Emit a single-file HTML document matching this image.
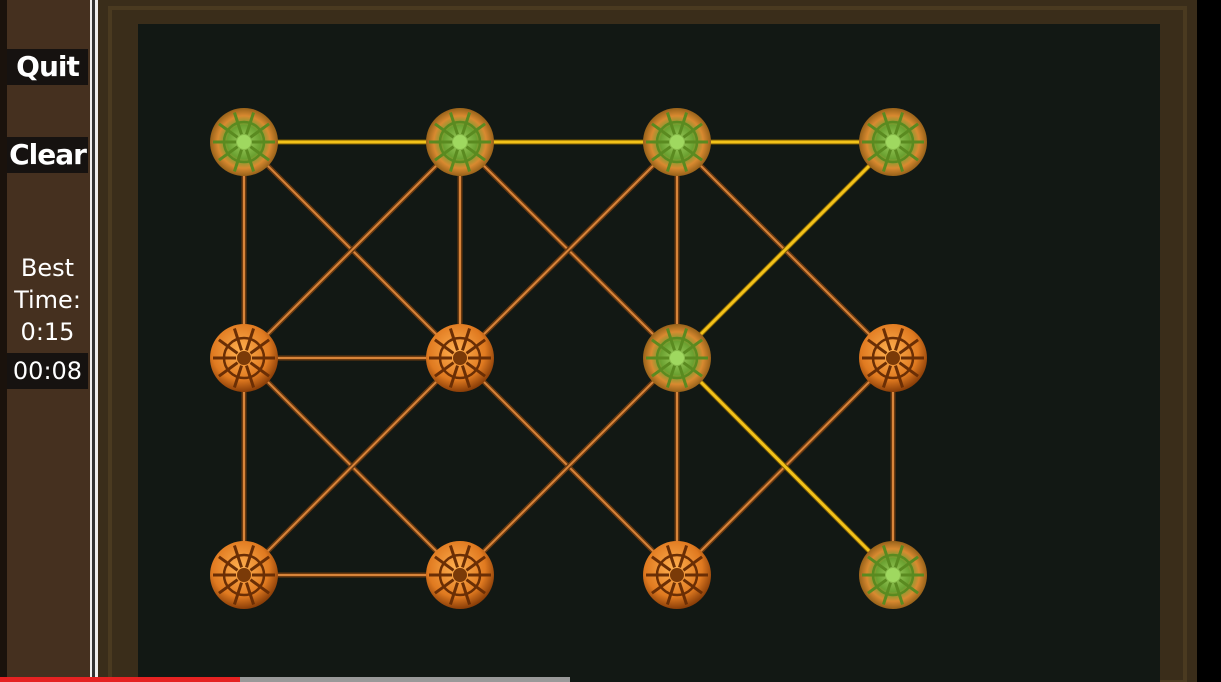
<!DOCTYPE html>
<html><head><meta charset="utf-8"><style>
body{margin:0;width:1221px;height:682px;overflow:hidden;background:#000;font-family:"DejaVu Sans","Liberation Sans",sans-serif}
#side{position:absolute;left:0;top:0;width:90px;height:682px;background:#45301f}
#side .strip{position:absolute;left:0;top:0;width:7px;height:682px;background:#1a120c}
.btn{position:absolute;left:7px;width:81px;background:#161210;color:#fff;font-weight:bold;font-size:28px;letter-spacing:-1px;text-align:center;line-height:36px;overflow:hidden;white-space:nowrap}
.lbl{position:absolute;left:7px;width:81px;color:#fff;font-size:24px;text-align:center;line-height:32px}
</style></head><body>
<div id="side">
<div class="strip"></div>
<div class="btn" style="top:49px">Quit</div>
<div class="btn" style="top:137px">Clear</div>
<div class="lbl" style="top:252px">Best<br>Time:<br>0:15</div>
<div class="btn" style="top:353px;font-weight:normal;font-size:24px;letter-spacing:0">00:08</div>
</div>
<svg id="board" width="1221" height="682" style="position:absolute;left:0;top:0">
<defs>
<radialGradient id="gO" cx="45%" cy="40%" r="60%"><stop offset="0" stop-color="#ffb050"/><stop offset="0.7" stop-color="#e07a20"/><stop offset="1" stop-color="#8a3e08"/></radialGradient>
<radialGradient id="gG" cx="50%" cy="50%" r="55%"><stop offset="0" stop-color="#9fd060"/><stop offset="0.45" stop-color="#6aa030"/><stop offset="0.7" stop-color="#d98a30"/><stop offset="1" stop-color="#7a5010"/></radialGradient>
</defs>
<rect x="90" y="0" width="2" height="682" fill="#eee"/>
<rect x="92" y="0" width="3" height="682" fill="#333"/>
<rect x="95" y="0" width="3" height="682" fill="#eee"/>
<rect x="98" y="0" width="1099" height="682" fill="#3a2d1a"/>
<rect x="110" y="8" width="1075" height="674" fill="none" stroke="#4a3a20" stroke-width="4"/>
<rect x="138" y="24" width="1022" height="658" fill="#121814"/>
<rect x="0" y="677" width="240" height="5" fill="#e52222"/>
<rect x="240" y="677" width="330" height="5" fill="#999"/>
<g id="edges"></g><g id="nodes"></g>
</svg>
<script>
const colsX=[244,460,677,893];
const rowsY=[142,358,575];
const greenNodes=["0,0","1,0","2,0","3,0","2,1","3,2"];
const yellowEdges=[[0,0,1,0],[1,0,2,0],[2,0,3,0],[3,0,2,1],[2,1,3,2]];
const orangeEdges=[[0,0,0,1],[0,0,1,1],[1,0,0,1],[1,0,1,1],[1,0,2,1],[2,0,1,1],[2,0,2,1],[2,0,3,1],[0,1,1,1],[0,1,0,2],[0,1,1,2],[1,1,0,2],[1,1,2,2],[2,1,1,2],[2,1,2,2],[3,1,2,2],[3,1,3,2],[0,2,1,2]];
const NS="http://www.w3.org/2000/svg";
const eg=document.getElementById('edges'),ng=document.getElementById('nodes');
function line(e,col,w,name){const l=document.createElementNS(NS,'line');
l.setAttribute('x1',colsX[e[0]]);l.setAttribute('y1',rowsY[e[1]]);l.setAttribute('x2',colsX[e[2]]);l.setAttribute('y2',rowsY[e[3]]);
l.setAttribute('stroke',col);l.setAttribute('stroke-width',w);


eg.appendChild(l);}
orangeEdges.forEach(e=>{line(e,'#6b3a10',5,'edge-outline');line(e,'#d8843a',2,'edge');});
yellowEdges.forEach(e=>{line(e,'#7a5a00',5,'edge-outline');line(e,'#f2c21a',3,'selected-edge');});
for(let r=0;r<rowsY.length;r++)for(let c=0;c<colsX.length;c++){
 const g=greenNodes.includes(c+','+r);const x=colsX[c],y=rowsY[r];
 const grp=document.createElementNS(NS,'g');
 
 
 const ci=document.createElementNS(NS,'circle');ci.setAttribute('cx',x);ci.setAttribute('cy',y);ci.setAttribute('r',34);ci.setAttribute('fill',g?'url(#gG)':'url(#gO)');grp.appendChild(ci);
 for(let k=0;k<10;k++){const a=k*Math.PI/5;const s=document.createElementNS(NS,'line');
  s.setAttribute('x1',x+8*Math.cos(a));s.setAttribute('y1',y+8*Math.sin(a));s.setAttribute('x2',x+31*Math.cos(a));s.setAttribute('y2',y+31*Math.sin(a));
  s.setAttribute('stroke',g?'#5a8a20':'#6a2e05');s.setAttribute('stroke-width',3);grp.appendChild(s);}
 const rc=document.createElementNS(NS,'circle');rc.setAttribute('cx',x);rc.setAttribute('cy',y);rc.setAttribute('r',20);rc.setAttribute('fill','none');rc.setAttribute('stroke',g?'#5a8a20':'#6a2e05');rc.setAttribute('stroke-width',2.5);grp.appendChild(rc);
 const cc=document.createElementNS(NS,'circle');cc.setAttribute('cx',x);cc.setAttribute('cy',y);cc.setAttribute('r',7);cc.setAttribute('fill',g?'#9fd860':'#7a3a08');grp.appendChild(cc);
 ng.appendChild(grp);}
</script>
</body></html>
